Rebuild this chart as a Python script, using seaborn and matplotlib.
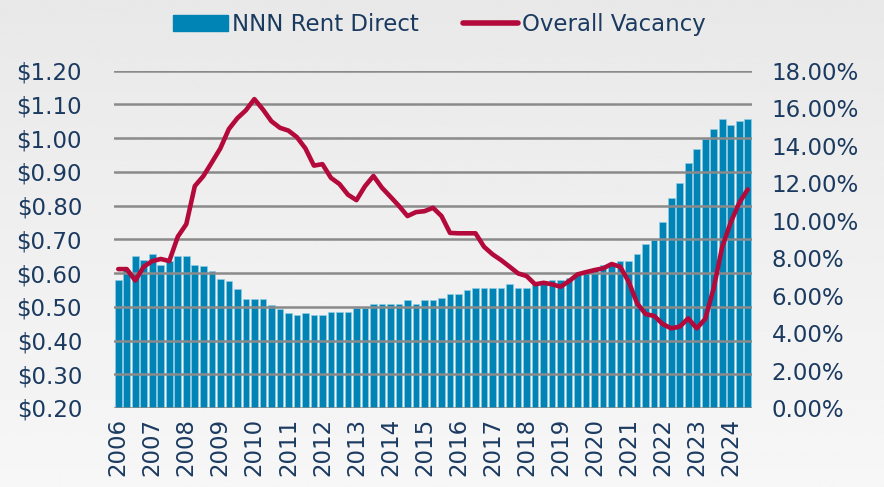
import numpy as np
import pandas as pd
import matplotlib
matplotlib.use("Agg")
import matplotlib.pyplot as plt
import seaborn as sns
from matplotlib.patches import Patch
from matplotlib.lines import Line2D

# ---- data (quarterly, 2006 Q1 .. 2024 Q3) ----
years = [str(y) for y in range(2006, 2025)]
quarter_index = list(range(75))
rent_nnn = [0.58, 0.61, 0.65, 0.64, 0.655, 0.625, 0.635, 0.65, 0.65, 0.625,
            0.62, 0.607, 0.583, 0.577, 0.553, 0.524, 0.524, 0.524, 0.506, 0.494,
            0.482, 0.476, 0.482, 0.476, 0.476, 0.484, 0.484, 0.484, 0.496, 0.496,
            0.508, 0.508, 0.508, 0.508, 0.52, 0.508, 0.52, 0.52, 0.525, 0.537,
            0.537, 0.55, 0.555, 0.555, 0.555, 0.555, 0.567, 0.555, 0.555, 0.565,
            0.57, 0.578, 0.578, 0.585, 0.595, 0.607, 0.613, 0.625, 0.63, 0.637,
            0.637, 0.655, 0.685, 0.697, 0.75, 0.822, 0.867, 0.927, 0.967, 0.997,
            1.027, 1.056, 1.038, 1.05, 1.056]
vacancy = [7.41, 7.41, 6.8, 7.54, 7.84, 7.95, 7.84, 9.14, 9.81, 11.84,
           12.37, 13.1, 13.85, 14.88, 15.46, 15.88, 16.48, 15.93, 15.3, 14.95,
           14.8, 14.45, 13.85, 12.93, 13.01, 12.28, 11.95, 11.38, 11.09, 11.83,
           12.38, 11.75, 11.27, 10.78, 10.24, 10.45, 10.5, 10.68, 10.24, 9.34,
           9.32, 9.32, 9.32, 8.6, 8.2, 7.89, 7.54, 7.18, 7.04, 6.6,
           6.68, 6.6, 6.47, 6.77, 7.13, 7.25, 7.36, 7.45, 7.68, 7.54,
           6.74, 5.58, 5.01, 4.91, 4.48, 4.25, 4.34, 4.78, 4.25, 4.75,
           6.4, 8.6, 9.9, 10.95, 11.66]

df = pd.DataFrame({"q": quarter_index, "rent": rent_nnn, "vac": vacancy})

BAR = "#0083b5"
LINE = "#b4093b"
TXT = "#1b3a60"
GRID = "#8a8a8a"

sns.set_theme(style="white")
plt.rcParams["font.family"] = ["DejaVu Sans"]

fig = plt.figure(figsize=(8.84, 4.87), dpi=100)

# background gradient (light grey, darker at top)
bg = fig.add_axes([0, 0, 1, 1], zorder=-10)
grad = np.linspace(0, 1, 256).reshape(-1, 1)
bg.imshow(grad, aspect="auto", cmap="gray", vmin=-16.5, vmax=1.6,
          extent=[0, 1, 0, 1], origin="upper")
bg.axis("off")

ax = fig.add_axes([114/884, 1-408/487, (752-114)/884, (408-70.6)/487])
ax.patch.set_alpha(0)

sns.barplot(data=df, x="q", y="rent", ax=ax, color=BAR, saturation=1,
            width=0.78, edgecolor="#8fcde4", linewidth=0.5)

ax.set_ylim(0.20, 1.20)
ax.set_yticks(np.arange(0.20, 1.2001, 0.10))
ax.set_yticklabels([f"${v:.2f}" for v in np.arange(0.20, 1.2001, 0.10)])
ax.set_axisbelow(False)
ax.grid(axis="y", color=GRID, linewidth=1.8)
ax.grid(axis="x", visible=False)

ax2 = ax.twinx()
sns.lineplot(data=df, x="q", y="vac", ax=ax2, color=LINE, linewidth=3.3,
             solid_capstyle="round", solid_joinstyle="round")
ax2.set_ylim(0, 18)
ax2.set_yticks(np.arange(0, 18.01, 2))
ax2.set_yticklabels([f"{v:.2f}%" for v in np.arange(0, 18.01, 2)])

ax.set_xlim(-0.5, 74.5)
ax.set_xticks(list(range(0, 75, 4)))
ax.set_xticklabels(years, rotation=90)

for a in (ax, ax2):
    for s in a.spines.values():
        s.set_visible(False)
    a.set_xlabel("")
    a.set_ylabel("")

ax.tick_params(axis="y", length=0, pad=23, labelsize=16.5, labelcolor=TXT)
ax.tick_params(axis="x", length=0, pad=7, labelsize=16.5, labelcolor=TXT)
ax2.tick_params(axis="y", length=0, pad=14, labelsize=16.5, labelcolor=TXT)

handles = [Patch(facecolor=BAR, edgecolor=BAR),
           Line2D([0], [0], color=LINE, linewidth=4, solid_capstyle="round")]
leg = fig.legend(handles, ["NNN Rent Direct", "Overall Vacancy"], loc="upper center",
                 bbox_to_anchor=(0.497, 1.015), ncol=2, frameon=False, fontsize=16.5,
                 handlelength=2.4, handletextpad=0.2, columnspacing=1.9)
for t in leg.get_texts():
    t.set_color(TXT)

fig.savefig("out.png", dpi=100)
